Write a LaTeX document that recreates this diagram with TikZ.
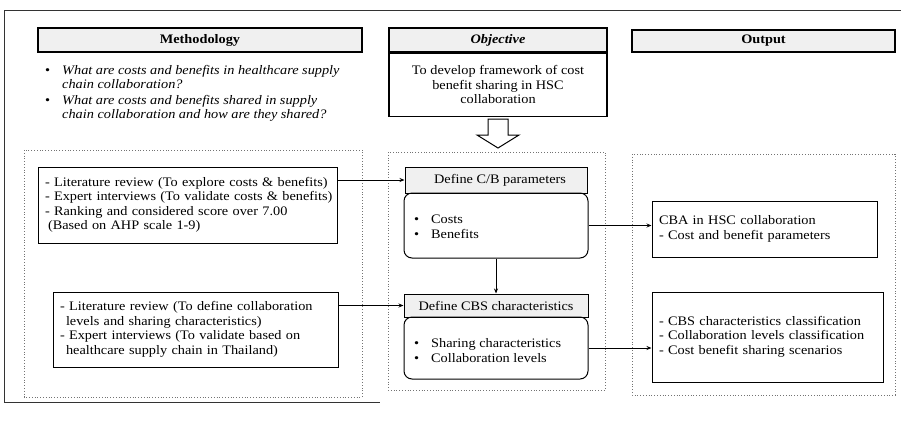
\documentclass[tikz,border=0pt]{standalone}
\usepackage{fontspec}
\setmainfont{Liberation Serif}[FakeStretch=1.1]
\usetikzlibrary{arrows.meta}
\begin{document}
\begin{tikzpicture}[x=1pt,y=-1pt,
  every node/.style={font=\fontsize{13}{14.5}\selectfont},
  hdr/.style={draw=black, line width=1.3pt, fill=black!6, inner sep=0pt},
  plainbox/.style={draw=black, line width=1pt, fill=white, inner sep=0pt},
  txtbox/.style={draw=black, line width=1pt, fill=white, inner xsep=7pt, align=left},
  bodybox/.style={draw=black, line width=1pt, rounded corners=8pt, inner sep=0pt},
  group/.style={draw=black!55, line width=0.8pt, dotted},
  link/.style={draw=black, line width=1pt, -{Stealth[length=5pt,width=4pt]}},
]
\useasboundingbox (0,0) rectangle (901,421);

% outer frame (top, left and bottom edges)
\draw[black!80, line width=1pt] (901,10) -- (4,10) -- (4,402) -- (380,402);

% column headers
\node[hdr, minimum width=324, minimum height=24] (meth) at (200,40) {\textbf{Methodology}};
\node[hdr, minimum width=218, minimum height=24] (objh) at (498,40) {\textbf{\textit{Objective}}};
\node[plainbox, line width=1.3pt, minimum width=218, minimum height=63, anchor=north, align=center]
  (objb) at (objh.south) {To develop framework of cost\\benefit sharing in HSC\\collaboration};
\node[hdr, minimum width=263, minimum height=22] (outh) at (763.5,41) {\textbf{Output}};

% research questions
\node[anchor=north west, inner sep=0pt] (rq) at (45,64) {%
  \begin{tabular}{@{}l@{\hspace{12pt}}l@{}}
  \textbullet & \textit{What are costs and benefits in healthcare supply}\\
              & \textit{chain collaboration?}\\[1pt]
  \textbullet & \textit{What are costs and benefits shared in supply}\\
              & \textit{chain collaboration and how are they shared?}
  \end{tabular}};

% block arrow below the objective
\draw[black, line width=1pt, fill=white]
  (488,119) -- (508,119) -- (508,135) -- (519,135) -- (498,148) -- (477,135) -- (488,135) -- cycle;

% group frames
\draw[group] (24,150) rectangle (362,397);
\draw[group] (388,152) rectangle (605,390);
\draw[group] (632,154) rectangle (895,395);

% methodology boxes
\node[txtbox, text width=285, minimum height=76] (lit1) at (187.5,205) {%
  \begin{tabular}{@{}l@{}}
  - Literature review (To explore costs \& benefits)\\
  - Expert interviews (To validate costs \& benefits)\\
  - Ranking and considered score over 7.00\\
  \hspace{3pt}(Based on AHP scale 1-9)
  \end{tabular}};
\node[txtbox, text width=271, minimum height=75] (lit2) at (195.5,329.5) {%
  \begin{tabular}{@{}l@{}}
  - Literature review (To define collaboration\\
  \hspace{6pt}levels and sharing characteristics)\\
  - Expert interviews (To validate based on\\
  \hspace{6pt}healthcare supply chain in Thailand)
  \end{tabular}};

% framework steps
\node[hdr, line width=1pt, minimum width=182, minimum height=26] (cbh) at (496,180) {\hspace{8pt}Define C/B parameters};
\node[bodybox, minimum width=184, minimum height=65] (cbb) at (496,225.5) {};
\node[anchor=west, inner sep=0pt] (cbt) at (414,228) {%
  \begin{tabular}{@{}l@{\hspace{12pt}}l@{}}
  \textbullet & Costs\\
  \textbullet & Benefits
  \end{tabular}};

\node[hdr, line width=1pt, minimum width=184, minimum height=23] (cbsh) at (496,305.5) {Define CBS characteristics};
\node[bodybox, minimum width=184, minimum height=62] (cbsb) at (496,348) {};
\node[anchor=west, inner sep=0pt] (cbst) at (414,352) {%
  \begin{tabular}{@{}l@{\hspace{12pt}}l@{}}
  \textbullet & Sharing characteristics\\
  \textbullet & Collaboration levels
  \end{tabular}};

% outputs
\node[txtbox, text width=211, minimum height=56] (out1) at (764.5,229) {%
  \begin{tabular}{@{}l@{}}
  CBA in HSC collaboration\\
  - Cost and benefit parameters
  \end{tabular}};
\node[txtbox, text width=217, minimum height=90] (out2) at (767.5,337) {%
  \begin{tabular}{@{}l@{}}
  - CBS characteristics classification\\
  - Collaboration levels classification\\
  - Cost benefit sharing scenarios
  \end{tabular}};

% connectors
\draw[link] (cbh.west -| lit1.east) -- (cbh.west);
\draw[link] (cbsh.west -| lit2.east) -- (cbsh.west);
\draw[link] (cbb.south) -- (cbsh.north);
\draw[link] (cbb.east) -- (cbb.east -| out1.west);
\draw[link] (cbsb.east) -- (cbsb.east -| out2.west);
\end{tikzpicture}
\end{document}
